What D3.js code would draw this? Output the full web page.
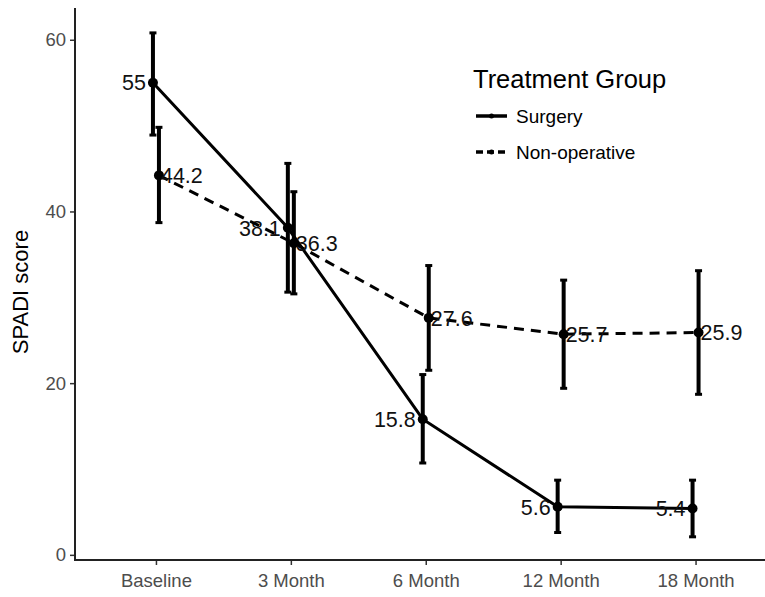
<!DOCTYPE html>
<meta charset="utf-8">
<script src="https://d3js.org/d3.v7.min.js"></script>
<style>
  body { margin: 0; background: #fff; }
  text { font-family: "Liberation Sans", Arial, sans-serif; }
</style>
<div id="chart"></div>
<script>
// data
var timepoints = ["Baseline", "3 Month", "6 Month", "12 Month", "18 Month"];
var surgeryMean = [55, 38.1, 15.8, 5.6, 5.4];
var surgeryLow  = [48.9, 30.6, 10.7, 2.6, 2.1];
var surgeryHigh = [60.8, 45.6, 21.0, 8.7, 8.7];
var nonopMean = [44.2, 36.3, 27.6, 25.7, 25.9];
var nonopLow  = [38.7, 30.4, 21.5, 19.4, 18.7];
var nonopHigh = [49.8, 42.3, 33.7, 32.0, 33.1];
var yTicks = [0, 20, 40, 60];
var groups = ["Surgery", "Non-operative"];

var W = 765, H = 597;
var svg = d3.select("#chart").append("svg")
  .attr("width", W).attr("height", H);

var pLeft = 75, pTop = 8, pBottom = 560, pRight = 776.5;

var x = d3.scalePoint()
  .domain(timepoints)
  .range([pLeft, pRight])
  .padding(0.6);

var y = d3.scaleLinear()
  .domain([-0.6, 63.7])
  .range([pBottom, pTop]);

var dodge = 3;

var series = [
  {name: groups[0], mean: surgeryMean, lo: surgeryLow, hi: surgeryHigh, off: -dodge, dash: null, side: "end"},
  {name: groups[1], mean: nonopMean, lo: nonopLow, hi: nonopHigh, off: dodge, dash: "10,7", side: "start"}
];

// axes
var yAxis = svg.append("g")
  .attr("transform", "translate(" + pLeft + ",0)")
  .call(d3.axisLeft(y).tickValues(yTicks).tickSize(5).tickPadding(4));
var xAxis = svg.append("g")
  .attr("transform", "translate(0," + pBottom + ")")
  .call(d3.axisBottom(x).tickSize(5).tickPadding(6));

[yAxis, xAxis].forEach(function(a) {
  a.select(".domain").remove();
  a.selectAll(".tick line").attr("stroke", "#333").attr("stroke-width", 1.5);
  a.selectAll(".tick text").attr("fill", "#4d4d4d").style("font-size", "18.5px")
    .style("font-family", "'Liberation Sans', Arial, sans-serif");
});
xAxis.selectAll(".tick text").attr("dy", "0.85em");

svg.append("line").attr("x1", pLeft).attr("x2", pLeft).attr("y1", pTop).attr("y2", pBottom + 1)
  .attr("stroke", "#222").attr("stroke-width", 2);
svg.append("line").attr("x1", pLeft - 1).attr("x2", W).attr("y1", pBottom).attr("y2", pBottom)
  .attr("stroke", "#222").attr("stroke-width", 2);

// y axis title
svg.append("text")
  .attr("transform", "translate(28," + ((pTop + pBottom) / 2 + 8) + ") rotate(-90)")
  .style("text-anchor", "middle")
  .style("font-size", "22px")
  .text("SPADI score");

// lines, error bars, points, labels
series.forEach(function(s) {
  var pts = timepoints.map(function(t, i) {
    return {t: t, m: s.mean[i], lo: s.lo[i], hi: s.hi[i], px: x(t) + s.off};
  });

  svg.append("path")
    .datum(pts)
    .attr("fill", "none")
    .attr("stroke", "#000")
    .attr("stroke-width", 3)
    .attr("stroke-dasharray", s.dash)
    .attr("d", d3.line().x(function(d) { return d.px; }).y(function(d) { return y(d.m); }));

  var g = svg.append("g");
  g.selectAll(".bar").data(pts).enter().append("line")
    .attr("x1", function(d) { return d.px; }).attr("x2", function(d) { return d.px; })
    .attr("y1", function(d) { return y(d.lo); }).attr("y2", function(d) { return y(d.hi); })
    .attr("stroke", "#000").attr("stroke-width", 4);
  ["lo", "hi"].forEach(function(k) {
    g.selectAll(".cap" + k).data(pts).enter().append("line")
      .attr("x1", function(d) { return d.px - 3.5; }).attr("x2", function(d) { return d.px + 3.5; })
      .attr("y1", function(d) { return y(d[k]); }).attr("y2", function(d) { return y(d[k]); })
      .attr("stroke", "#000").attr("stroke-width", 3);
  });
  g.selectAll("circle").data(pts).enter().append("circle")
    .attr("cx", function(d) { return d.px; })
    .attr("cy", function(d) { return y(d.m); })
    .attr("r", 5).attr("fill", "#000");

  g.selectAll(".lab").data(pts).enter().append("text")
    .attr("x", function(d) { return s.side === "end" ? d.px - 7 : d.px + 2; })
    .attr("y", function(d) { return y(d.m); })
    .attr("dy", "0.36em")
    .style("text-anchor", s.side)
    .style("font-size", "21.5px")
    .attr("fill", "#111")
    .text(function(d) { return d.m; });
});

// legend
var leg = svg.append("g");
leg.append("text").attr("x", 473).attr("y", 88)
  .style("font-size", "25.5px").text("Treatment Group");
series.forEach(function(s, i) {
  var ky = 116 + i * 36;
  leg.append("line").attr("x1", 476).attr("x2", 507).attr("y1", ky).attr("y2", ky)
    .attr("stroke", "#000").attr("stroke-width", 3.5)
    .attr("stroke-dasharray", s.dash ? "7,4" : null);
  leg.append("circle").attr("cx", 491.5).attr("cy", ky).attr("r", 2.5).attr("fill", "#000");
  leg.append("text").attr("x", 516).attr("y", ky).attr("dy", "0.36em")
    .style("font-size", "19px").text(s.name);
});
</script>
